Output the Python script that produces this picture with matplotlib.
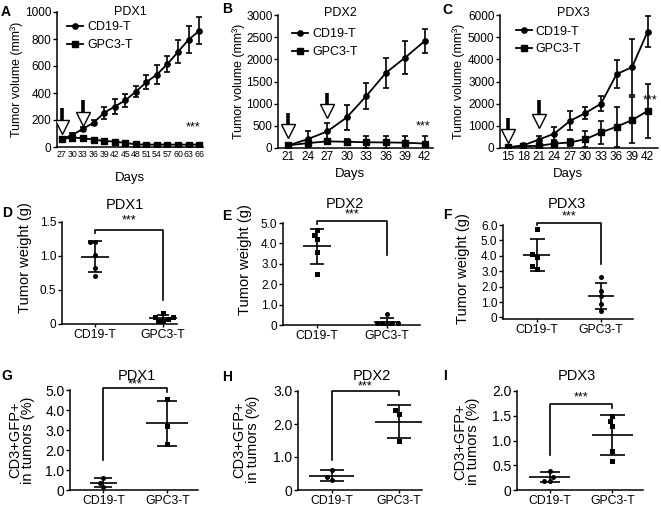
import matplotlib
matplotlib.use("Agg")
import matplotlib.pyplot as plt
from matplotlib.lines import Line2D
import numpy as np
import seaborn as sns

plt.rcParams['font.family'] = ['Liberation Sans', 'DejaVu Sans']

W, H = 661, 509

# --- tumor growth curves (A-C) ---
days_a = [27, 30, 33, 36, 39, 42, 45, 48, 51, 54, 57, 60, 63, 66]
cd19_a = [60, 90, 135, 180, 253, 300, 345, 410, 480, 537, 615, 705, 795, 860]
cd19_a_err = [10, 15, 15, 20, 43, 55, 50, 40, 50, 68, 60, 85, 100, 100]
gpc3_a = [60, 70, 65, 55, 45, 40, 30, 20, 18, 18, 18, 18, 18, 18]
gpc3_a_err = [12, 12, 10, 8, 8, 8, 6, 5, 5, 5, 5, 5, 5, 5]

days_b = [21, 24, 27, 30, 33, 36, 39, 42]
cd19_b = [60, 200, 375, 690, 1170, 1690, 2040, 2410]
cd19_b_err = [20, 175, 190, 280, 300, 330, 365, 270]
gpc3_b = [60, 110, 150, 140, 130, 125, 120, 100]
gpc3_b_err = [20, 40, 50, 60, 130, 140, 160, 180]

days_c = [15, 18, 21, 24, 27, 30, 33, 36, 39, 42]
cd19_c = [30, 120, 380, 650, 1220, 1580, 2000, 3330, 3650, 5250]
cd19_c_err = [20, 60, 150, 300, 430, 280, 350, 640, 1250, 700]
gpc3_c = [30, 80, 100, 200, 250, 400, 700, 960, 1260, 1670]
gpc3_c_err = [20, 40, 80, 100, 150, 350, 500, 900, 1050, 1200]

# treatment arrows: (day, shaft top, head centre)
arrows_a = [(27, 290, 145), (33, 345, 205)]
arrows_b = [(21, 790, 380), (27, 1240, 832)]
arrows_c = [(15, 1350, 535), (21, 2180, 1210)]

# --- tumor weight (D-F) ---
groups = ['CD19-T', 'GPC3-T']
cd19_d = [1.21, 1.21, 1.01, 0.83, 0.70]
gpc3_d = [0.16, 0.10, 0.10, 0.07, 0.04, 0.04]
cd19_e = [4.65, 4.40, 4.20, 3.60, 2.50]
gpc3_e = [0.55, 0.12, 0.10, 0.08, 0.06, 0.10]
cd19_f = [5.72, 4.11, 3.94, 3.33, 3.17]
gpc3_f = [2.64, 1.74, 1.38, 0.90, 0.44]

# --- CD3+GFP+ in tumors (G-I) ---
cd19_g = [0.58, 0.37, 0.17]
gpc3_g = [4.53, 3.22, 2.28]
cd19_h = [0.61, 0.39, 0.30]
gpc3_h = [2.41, 2.31, 1.50]
cd19_i = [0.39, 0.27, 0.19, 0.19]
gpc3_i = [1.50, 1.39, 1.30, 0.79, 0.59]

fig = plt.figure(figsize=(W / 100, H / 100), dpi=100)


def px_axes(l, t, r, b):
    ax = fig.add_axes([l / W, 1 - b / H, (r - l) / W, (b - t) / H])
    ax.spines['top'].set_visible(False)
    ax.spines['right'].set_visible(False)
    for s in ('left', 'bottom'):
        ax.spines[s].set_linewidth(1.1)
    ax.patch.set_alpha(0)
    return ax


def ftext(x, y, s, **kw):
    fig.text(x / W, 1 - y / H, s, **kw)


def growth(ax, days, cd19, cd19_err, gpc3, gpc3_err, arrows, ticks, yticks, star):
    for vals, err, mk in ((cd19, cd19_err, 'o'), (gpc3, gpc3_err, 's')):
        ax.errorbar(days, vals, yerr=err, fmt='none', ecolor='k',
                    elinewidth=1.2, capsize=2.2, capthick=1.2, zorder=2)
        ax.plot(days, vals, color='k', lw=1.3, marker=mk, ms=3.8, zorder=3)
    for d, top, mid in arrows:
        ax.plot([d, d], [mid, top], color='k', lw=2.6, solid_capstyle='butt', zorder=4)
        ax.plot(d, mid, marker='v', ms=9.5, mfc='white', mec='k', mew=1.0, zorder=5)
    ax.set_xticks(ticks)
    ax.set_yticks(yticks)
    ax.tick_params(axis='y', length=3, width=1, pad=1, labelsize=8.5)
    ax.tick_params(axis='x', length=0, pad=2, labelsize=8.5)
    ax.text(star[0], star[1], '***', ha='center', va='center', fontsize=9)
    ax.set_xlabel('Days', fontsize=9.5)
    ax.set_ylabel('Tumor volume (mm³)', fontsize=9)
    handles = [Line2D([], [], color='k', lw=1.3, marker='o', ms=3.8),
               Line2D([], [], color='k', lw=1.3, marker='s', ms=3.8)]
    return handles


def dots(ax, cd19, gpc3, markers, mean_hw, cap, bracket, ylim, yticks, ylabels, tick_fs):
    for i, (vals, mk) in enumerate(((cd19, markers[0]), (gpc3, markers[1]))):
        sns.swarmplot(x=[groups[i]] * len(vals), y=vals, order=groups, ax=ax,
                      color='k', marker=mk, size=3.6, zorder=3)
        m, sd = np.mean(vals), np.std(vals, ddof=1)
        ax.hlines(m, i - mean_hw[i], i + mean_hw[i], color='k', lw=1.2, zorder=2)
        ax.errorbar(i, m, yerr=sd, fmt='none', ecolor='k', elinewidth=1.2,
                    capsize=cap[i], capthick=1.2, zorder=2)
    top, left_end, right_end = bracket
    ax.plot([0, 0, 1, 1], [left_end, top, top, right_end], color='k', lw=1.2,
            clip_on=False, zorder=1)
    ax.set_ylim(*ylim)
    ax.set_yticks(yticks)
    ax.set_yticklabels(ylabels)
    ax.set_xticks([0, 1])
    ax.set_xticklabels(groups)
    ax.tick_params(axis='y', length=3, width=1, pad=1, labelsize=tick_fs)
    ax.tick_params(axis='x', length=2.5, width=1, pad=1, labelsize=8.8)
    ax.set_xlabel('')


# ---- A ----
axA = px_axes(57, 12, 203, 147)
h = growth(axA, days_a, cd19_a, cd19_a_err, gpc3_a, gpc3_a_err, arrows_a,
           days_a, range(0, 1001, 200), (64.3, 148))
axA.set_xlim(25.6, 67.1)
axA.set_ylim(0, 1000)
axA.tick_params(axis='x', labelsize=6.3, pad=2)
axA.xaxis.set_label_coords(0.5, -0.185)
axA.yaxis.set_label_coords(-0.235, 0.5)
axA.legend(h, groups, loc='upper left', bbox_to_anchor=(0.07, 0.93), frameon=False,
           fontsize=9, handlelength=1.3, handletextpad=0.3, labelspacing=0.45,
           borderpad=0, borderaxespad=0)

# ---- B ----
axB = px_axes(278, 15, 433, 148)
h = growth(axB, days_b, cd19_b, cd19_b_err, gpc3_b, gpc3_b_err, arrows_b,
           days_b, range(0, 3001, 500), (41.7, 490))
axB.set_xlim(19.4, 43.3)
axB.set_ylim(0, 3000)
axB.xaxis.set_label_coords(0.465, -0.15)
axB.yaxis.set_label_coords(-0.215, 0.5)
axB.legend(h, groups, loc='upper left', bbox_to_anchor=(0.09, 0.9), frameon=False,
           fontsize=9, handlelength=1.3, handletextpad=0.3, labelspacing=0.45,
           borderpad=0, borderaxespad=0)

# ---- C ----
axC = px_axes(500, 15, 658, 148)
h = growth(axC, days_c, cd19_c, cd19_c_err, gpc3_c, gpc3_c_err, arrows_c,
           days_c, range(0, 6001, 1000), (42.4, 2150))
axC.set_xlim(13.5, 44)
axC.set_ylim(0, 6000)
axC.xaxis.set_label_coords(0.43, -0.15)
axC.yaxis.set_label_coords(-0.22, 0.5)
axC.legend(h, groups, loc='upper left', bbox_to_anchor=(0.1, 0.92), frameon=False,
           fontsize=9, handlelength=1.3, handletextpad=0.3, labelspacing=0.45,
           borderpad=0, borderaxespad=0)

# ---- D ----
axD = px_axes(62, 222, 177, 324)
dots(axD, cd19_d, gpc3_d, ('o', 's'), (0.2, 0.2), (4.7, 4.5), (1.38, 1.34, 0.36),
     (0, 1.5), [0, 0.5, 1.0, 1.5], ['0', '0.5', '1.0', '1.5'], 8.5)
axD.set_xlim(-0.485, 1.206)
axD.set_ylabel('Tumor weight (g)', fontsize=10.5)
axD.yaxis.set_label_coords(-0.26, 0.65)

# ---- E ----
axE = px_axes(283, 223, 420, 325)
dots(axE, cd19_e, gpc3_e, ('s', 'o'), (0.2, 0.19), (5, 5), (5.08, 4.97, 3.42),
     (0, 5), [0, 1, 2, 3, 4, 5], ['0', '1.0', '2.0', '3.0', '4.0', '5.0'], 8.5)
axE.set_xlim(-0.49, 1.47)
axE.set_ylabel('Tumor weight (g)', fontsize=10.5)
axE.yaxis.set_label_coords(-0.226, 0.64)

# ---- F ----
axF = px_axes(503, 225, 633, 319)
dots(axF, cd19_f, gpc3_f, ('s', 'o'), (0.21, 0.21), (5.4, 4.3), (6.14, 6.0, 3.48),
     (-0.1, 6.0), [0, 1, 2, 3, 4, 5, 6], ['0', '1.0', '2.0', '3.0', '4.0', '5.0', '6.0'], 8.5)
axF.set_xlim(-0.53, 1.5)
axF.set_ylabel('Tumor weight (g)', fontsize=10.5)
axF.yaxis.set_label_coords(-0.254, 0.54)

# ---- G ----
ylab3 = 'CD3+GFP+\nin tumors (%)'
axG = px_axes(70, 390, 198, 490)
dots(axG, cd19_g, gpc3_g, ('o', 's'), (0.21, 0.33), (6.5, 7.5), (5.08, 1.5, 4.92),
     (0, 5), [0, 1, 2, 3, 4, 5], ['0', '1.0', '2.0', '3.0', '4.0', '5.0'], 10)
axG.set_xlim(-0.52, 1.48)
axG.set_ylabel(ylab3, fontsize=10.5, linespacing=0.95)
axG.yaxis.set_label_coords(-0.27, 0.5)

# ---- H ----
axH = px_axes(298, 391, 422, 490)
dots(axH, cd19_h, gpc3_h, ('o', 's'), (0.33, 0.35), (8.4, 8.4), (3.0, 0.91, 2.87),
     (0, 3), [0, 1, 2, 3], ['0', '1.0', '2.0', '3.0'], 10)
axH.set_xlim(-0.5, 1.35)
axH.set_ylabel(ylab3, fontsize=10.5, linespacing=0.95)
axH.yaxis.set_label_coords(-0.306, 0.51)

# ---- I ----
axI = px_axes(517, 391, 643, 490)
dots(axI, cd19_i, gpc3_i, ('o', 's'), (0.33, 0.33), (7, 9), (1.73, 0.71, 1.65),
     (0, 2), [0, 0.5, 1.0, 1.5, 2.0], ['0', '0.5', '1.0', '1.5', '2.0'], 10)
axI.set_xlim(-0.52, 1.49)
axI.set_ylabel(ylab3, fontsize=10.5, linespacing=0.95)
axI.yaxis.set_label_coords(-0.29, 0.49)

# stars over brackets
for ax, y in ((axD, 1.52), (axE, 5.4), (axF, 6.56), (axG, 5.28), (axH, 3.13), (axI, 1.86)):
    ax.text(0.5, y, '***', ha='center', va='center', fontsize=9, clip_on=False)

# titles
for x, y, s, fs in ((130, 12, 'PDX1', 9), (340, 13, 'PDX2', 9), (573, 13, 'PDX3', 9),
                    (125, 205, 'PDX1', 10.5), (345, 204, 'PDX2', 10.5), (567, 204, 'PDX3', 10.5),
                    (137, 376, 'PDX1', 10.5), (372, 376, 'PDX2', 10.5), (577, 376, 'PDX3', 10.5)):
    ftext(x, y, s, ha='center', va='center', fontsize=fs)

# panel letters
for x, y, s in ((6, 12, 'A'), (227, 9, 'B'), (447, 10, 'C'),
                (7, 213, 'D'), (227, 216, 'E'), (447, 215, 'F'),
                (7, 376, 'G'), (227, 377, 'H'), (445, 376, 'I')):
    ftext(x, y, s, ha='center', va='center', fontsize=10, fontweight='bold')

fig.savefig('out.png', dpi=100)
